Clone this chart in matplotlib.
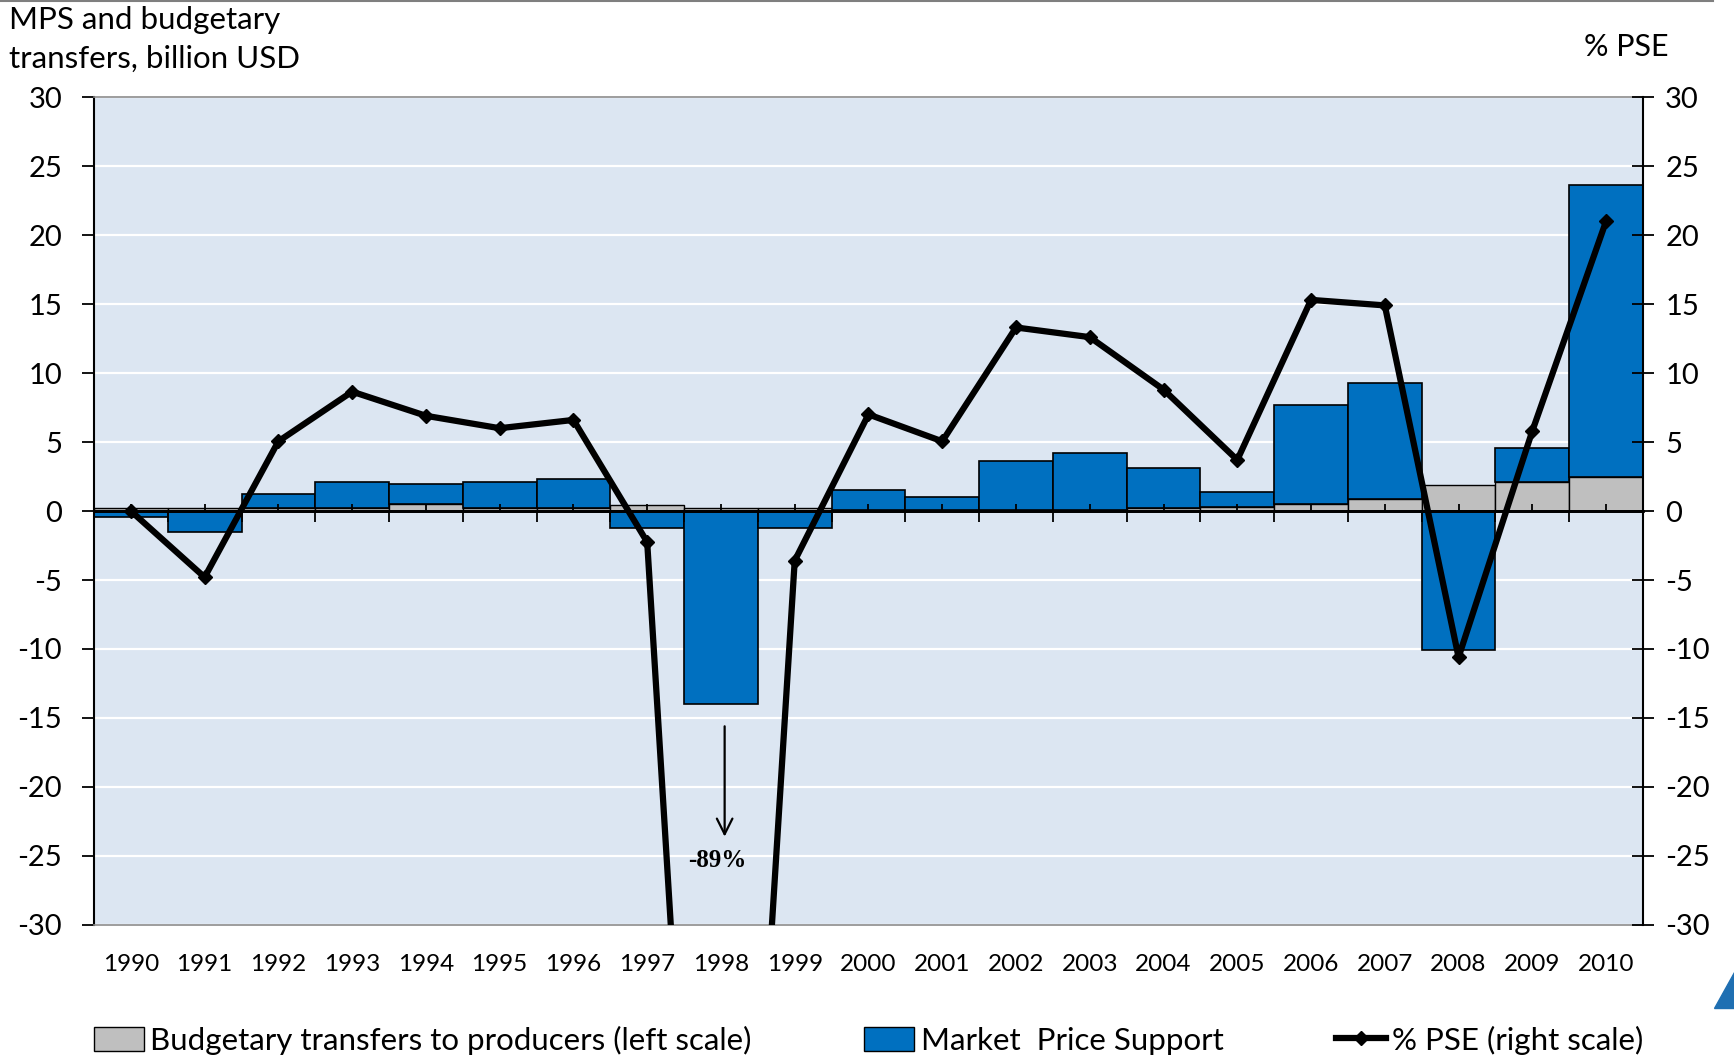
import numpy as np
import matplotlib.pyplot as plt
from matplotlib.lines import Line2D
from matplotlib.patches import Patch, Polygon
from matplotlib.ticker import NullFormatter

# -----------------------------
# Data
# -----------------------------
years = ['1990', '1991', '1992', '1993', '1994', '1995', '1996', '1997', '1998', '1999', '2000',
         '2001', '2002', '2003', '2004', '2005', '2006', '2007', '2008', '2009', '2010']
budget = [0.25, 0.25, 0.25, 0.25, 0.5, 0.25, 0.25, 0.4, 0.25, 0.25, 0.1,
          0.1, 0.1, 0.1, 0.2, 0.3, 0.5, 0.9, 1.85, 2.1, 2.5]
mps = [-0.45, -1.5, 0.95, 1.85, 1.45, 1.85, 2.1, -1.25, -14.0, -1.25, 1.45,
       0.95, 3.55, 4.1, 2.9, 1.1, 7.2, 8.4, -10.1, 2.5, 21.15]
pse = [0.0, -4.8, 5.05, 8.65, 6.9, 6.0, 6.6, -2.25, -89.0, -3.6, 7.0,
       5.05, 13.3, 12.6, 8.8, 3.7, 15.3, 14.9, -10.6, 5.8, 21.0]

GRAY = '#BFBFBF'
BLUE = '#0070C0'
BG = '#DCE6F2'
FONT = ['Lato', 'DejaVu Sans']

plt.rcParams['font.family'] = FONT
plt.rcParams['axes.unicode_minus'] = False

x = np.arange(len(years))
budget = np.array(budget)
mps = np.array(mps)
mps_bottom = np.where(mps >= 0, budget, 0)

fig = plt.figure(figsize=(17.34, 10.57), dpi=100)
ax = fig.add_axes([0.0542, 0.1249, 0.8933, 0.7833])
ax.set_facecolor(BG)

# -----------------------------
# Bars
# -----------------------------
ax.bar(x, budget, width=1.0, color=GRAY, edgecolor='black', linewidth=1.0, zorder=2)
ax.bar(x, mps, width=1.0, bottom=mps_bottom, color=BLUE, edgecolor='black',
       linewidth=1.2, zorder=2)
ax.axhline(0, color='black', lw=2, zorder=3)

ax.set_xlim(-0.5, len(years) - 0.5)
ax.set_ylim(-30, 30)
ax.set_yticks(np.arange(-30, 31, 5))
ax.yaxis.grid(True, color='white', lw=1.6)
ax.set_axisbelow(True)
ax.set_xticks(x, years)
ax.tick_params(axis='x', length=0, pad=21, labelsize=17.5)
ax.tick_params(axis='y', direction='out', length=9, width=1.3, pad=14, labelsize=21)

for s in ['top', 'bottom']:
    ax.spines[s].set_color('#8C8C8C')
    ax.spines[s].set_linewidth(1.2)
ax.spines['left'].set_linewidth(1.5)
ax.spines['right'].set_visible(False)

# ticks along the zero line (secondary axis sits at the middle, ticks on its top side)
sec = ax.secondary_xaxis(0.5)
sec.set_zorder(4)
sec.spines['top'].set_linewidth(2)
sec.set_xticks(np.arange(-0.5, len(years), 1.0))
sec.set_xticks(x, minor=True)
sec.xaxis.set_major_formatter(NullFormatter())
sec.xaxis.set_minor_formatter(NullFormatter())
sec.tick_params(which='major', direction='in', length=8, width=1.3)
sec.tick_params(which='minor', direction='out', length=5, width=1.3)

# -----------------------------
# % PSE line (right scale)
# -----------------------------
ax2 = ax.twinx()
ax2.plot(x, pse, color='black', lw=4.5, marker='D', markersize=7, zorder=5)
ax2.set_ylim(-30, 30)
ax2.set_yticks(np.arange(-30, 31, 5))
ax2.tick_params(axis='y', direction='inout', length=16, width=1.3, pad=8, labelsize=21)
ax2.spines['right'].set_linewidth(1.5)
for s in ['top', 'bottom', 'left']:
    ax2.spines[s].set_visible(False)

# annotation for the clipped 1998 value
ax2.annotate('', xy=(8.05, -23.8), xytext=(8.05, -15.4),
             arrowprops=dict(arrowstyle='->', color='black', lw=1.6, mutation_scale=28))
ax2.text(7.95, -25.3, '-89%', ha='center', va='center', fontsize=18,
         fontweight='bold', family='Liberation Serif')

# -----------------------------
# Titles, legend, decorations
# -----------------------------
fig.text(0.005, 0.994, 'MPS and budgetary\ntransfers, billion USD', ha='left', va='top',
         fontsize=22.5, linespacing=1.45)
fig.text(0.9625, 0.956, '% PSE', ha='right', va='center', fontsize=22)

fig.add_artist(Line2D([0, 0.988], [0.999, 0.999], color='#7F7F7F', lw=1.5))
fig.add_artist(Polygon([[0.9885, 0.046], [1.0, 0.046], [1.0, 0.08]], closed=True,
                       color='#1F6FB2'))

handles = [Patch(facecolor=GRAY, edgecolor='black'),
           Patch(facecolor=BLUE, edgecolor='black'),
           Line2D([], [], color='black', lw=4.5, marker='D', markersize=7)]
labels = ['Budgetary transfers to producers (left scale)', 'Market  Price Support',
          '% PSE (right scale)']
fig.legend(handles, labels, loc='center', bbox_to_anchor=(0.501, 0.016), ncol=3,
           frameon=False, fontsize=22.5, columnspacing=3.6, handlelength=1.6,
           handletextpad=0.2, handleheight=0.8)

fig.savefig('out.png', dpi=100)
